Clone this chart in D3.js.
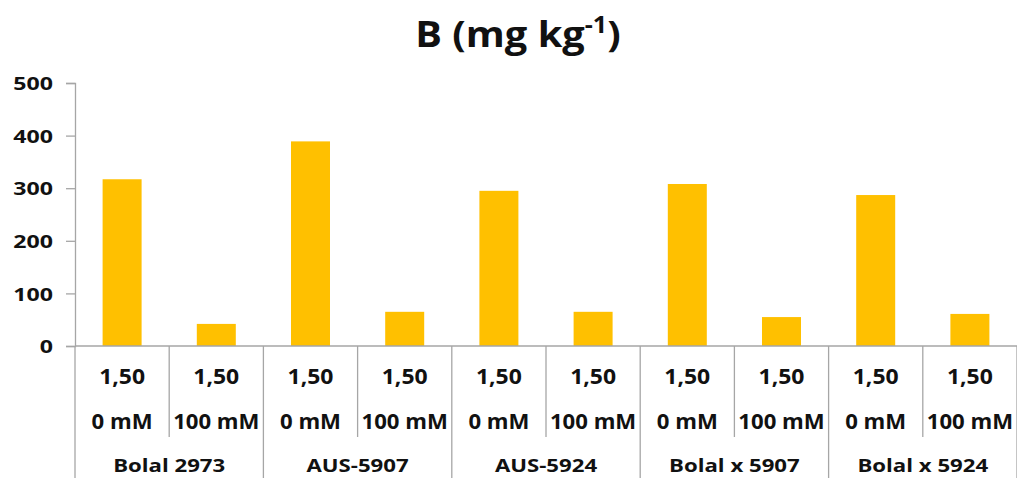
<!DOCTYPE html>
<html>
<head>
<meta charset="utf-8">
<script src="https://cdn.jsdelivr.net/npm/d3@7"></script>
<style>
  html, body { margin: 0; padding: 0; background: #fff; }
  text { font-family: "Open Sans", "Liberation Sans", sans-serif; font-weight: 700; fill: #111; }
</style>
</head>
<body>
<svg id="chart" width="1017" height="478"></svg>
<script>
// Boron content per genotype and salt treatment
const genotypes = ["Bolal 2973", "AUS-5907", "AUS-5924", "Bolal x 5907", "Bolal x 5924"];
const doses = ["0 mM", "100 mM"];
const concentration = "1,50";
const values = [317, 42, 389, 65, 295, 65, 308, 55, 287, 61];
const yTicks = [0, 100, 200, 300, 400, 500];

const svg = d3.select("#chart");
const W = 1017, H = 478;
const plotLeft = 75, plotRight = 1017, plotTop = 83, base = 346;
const axisColor = "#a6a6a6";

// one slot per genotype/dose pair
const slots = genotypes.flatMap((g, gi) => doses.map((d, di) => ({ g, d, gi, di, v: values[gi * 2 + di], i: gi * 2 + di })));

const x = d3.scaleBand()
  .domain(slots.map(s => s.i))
  .range([plotLeft, plotRight])
  .paddingInner(0.586)
  .paddingOuter(0.293);

const y = d3.scaleLinear().domain([0, 500]).range([base, plotTop]);

// widen a text horizontally about its own x anchor
function wide(sel, sx) {
  sel.attr("transform", function () {
    const xx = +d3.select(this).attr("x");
    return `translate(${xx},0) scale(${sx},1) translate(${-xx},0)`;
  });
}

// title
const title = svg.append("text")
  .attr("x", 518).attr("y", 47)
  .attr("text-anchor", "middle")
  .style("font-size", "36.5px")
  .call(wide, 1.09);
title.append("tspan").text("B (mg kg");
title.append("tspan").text("-1").attr("dy", -14).style("font-size", "23px");
title.append("tspan").text(")").attr("dy", 14);

// bars
svg.append("g").selectAll("rect")
  .data(slots)
  .join("rect")
  .attr("x", d => x(d.i))
  .attr("width", x.bandwidth())
  .attr("y", d => y(d.v))
  .attr("height", d => y(0) - y(d.v))
  .attr("fill", "#ffc000");

// y axis
const yAxis = svg.append("g")
  .attr("transform", `translate(${plotLeft},0)`)
  .call(d3.axisLeft(y).tickValues(yTicks).tickSize(9).tickPadding(13));
yAxis.select(".domain").attr("stroke", axisColor).attr("stroke-width", 1.3);
yAxis.selectAll(".tick line").attr("stroke", axisColor).attr("stroke-width", 1.3);
yAxis.selectAll(".tick text")
  .attr("font-size", null)
  .style("font-size", "18.5px")
  .style("font-family", "'Open Sans', sans-serif")
  .attr("fill", "#111")
  .attr("dy", "0.36em")
  .call(wide, 1.25);

// category axis: baseline and separators
const step = x.step();
svg.append("line")
  .attr("x1", plotLeft).attr("x2", plotRight)
  .attr("y1", base).attr("y2", base)
  .attr("stroke", axisColor).attr("stroke-width", 1.3);

const bounds = d3.range(slots.length + 1);
svg.append("g").selectAll("line")
  .data(bounds)
  .join("line")
  .attr("x1", k => plotLeft + k * step)
  .attr("x2", k => plotLeft + k * step)
  .attr("y1", base)
  .attr("y2", k => (k % 2 === 0 ? H : 437))
  .attr("stroke", axisColor)
  .attr("stroke-width", 1.3);

// concentration row
svg.append("g").selectAll("text")
  .data(slots)
  .join("text")
  .attr("x", d => x(d.i) + x.bandwidth() / 2)
  .attr("y", 384)
  .attr("text-anchor", "middle")
  .style("font-size", "20.5px")
  .text(concentration)
  .call(wide, 1.12);

// dose row
svg.append("g").selectAll("text")
  .data(slots)
  .join("text")
  .attr("x", d => x(d.i) + x.bandwidth() / 2)
  .attr("y", 429)
  .attr("text-anchor", "middle")
  .style("font-size", "20.5px")
  .text(d => d.d)
  .call(wide, 1.08);

// genotype row
svg.append("g").selectAll("text")
  .data(genotypes)
  .join("text")
  .attr("x", (g, gi) => plotLeft + (gi * 2 + 1) * step)
  .attr("y", 472)
  .attr("text-anchor", "middle")
  .style("font-size", "18.5px")
  .text(g => g)
  .call(wide, 1.2);
</script>
</body>
</html>
